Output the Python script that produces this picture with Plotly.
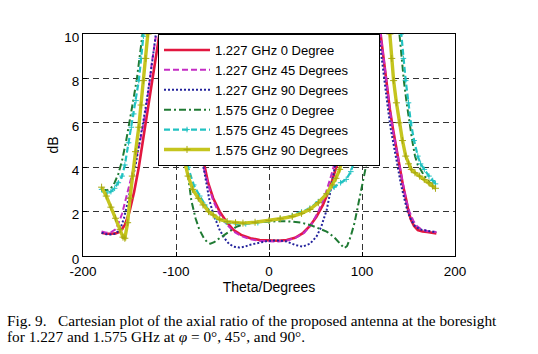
import plotly.graph_objects as go

# ---------------- data (theta in degrees, axial ratio in dB) ----------------
red_t = [-180,-175,-170,-165,-160,-155,-150,-145,-140,-135,-130,-125,-120,-115,
         -100,
         -82,-77,-73,-69,-65.5,-60,-53,-45,-38,-30,-20,-10,0,10,19,28,36,44,51,58,65,70,76,80,85,90,95,
         108,
         118,120,123,126,130,133.4,137,140.5,144,147.7,150,153,156,160,165,170,175,180]
red_v = [1.05,1.0,1.0,1.02,1.1,1.4,2.0,2.9,4.0,5.3,6.7,8.1,9.4,10.8,
         25,
         8.0,6.0,4.8,4.0,3.3,2.6,2.0,1.5,1.17,0.95,0.8,0.72,0.69,0.69,0.72,0.82,1.02,1.35,1.77,2.3,3.0,3.7,4.5,5.5,7.0,9.0,11,
         25,
         11,10,8.9,7.9,6.6,5.7,4.8,4.0,3.2,2.5,2.0,1.6,1.35,1.17,1.1,1.08,1.05,1.02]

mag_t = [-180,-175,-170,-165,-161.6,-158,-155,-150,-144,-138,-133,-129,-126,-122,-118,
         -100,
         -84,-79,-75,-71,-66,-60,-54,-46,-38,-30,-20,-10,0,10,20,30,38,46,53,60,66,72,77,82,87,92,
         106,
         118,120,123,126,130,133,137,140.5,144,147.5,151,155,159,164,170,175,180]
mag_v = [1.1,1.05,1.07,1.2,1.5,1.9,2.4,3.2,4.2,5.3,6.4,7.6,8.7,9.8,11,
         25,
         8.5,6.5,5.0,4.1,3.3,2.5,1.95,1.45,1.1,0.9,0.75,0.68,0.65,0.65,0.7,0.85,1.05,1.45,2.0,2.7,3.5,4.4,5.4,7.0,9.0,11,
         25,
         11,10,8.9,7.9,6.6,5.7,4.8,4.0,3.2,2.5,2.0,1.6,1.35,1.2,1.12,1.1,1.08]

blu_t = [-180,-175,-170,-165,-160,-156,-152,-148,-143,-138,-133,-128,-124,-120,
         -100,
         -84,-80,-77,-74.5,-70,-67,-64,-60,-56,-53,-48,-43,-38,-32,-26,-21,-10,0,10,19,28,36,44,51,56,62,66,69,72,75,79,84,89,
         105,
         116,118,121,124,128,131,135,138.5,142,146,149,153,157,162,170,175,180]
blu_v = [1.05,0.98,0.97,1.0,1.2,1.7,2.4,3.2,4.2,5.4,6.6,8.0,9.2,10.5,
         25,
         9.0,7.5,6.0,4.8,3.9,3.2,2.5,1.9,1.45,1.17,0.8,0.55,0.42,0.38,0.42,0.5,0.6,0.69,0.7,0.65,0.5,0.42,0.55,0.87,1.3,2.07,2.9,3.57,4.3,5.2,6.7,8.5,10.5,
         25,
         11,10,8.9,7.9,6.6,5.7,4.8,4.0,3.2,2.5,2.0,1.6,1.35,1.2,1.12,1.1,1.08]

grn_t = [-180,-177,-174,-170,-166,-162,-158,-154,-150,-146,-142,-139,-136,-133,
         -115,
         -100,-96,-93,-90,-87,-83.5,-79,-75,-70,-66,-63,-59,-55,-51,-45,-35,-25,-12,0,12,25,35,44,53,62,70,76,81,84,88,92,95,98,102,106.5,109,112,115,118,
         130,
         138,140,142.5,145,148,151,154,157,160,163,167,172,176,179]
grn_v = [3.0,2.98,2.96,3.05,3.3,3.7,4.3,5.1,6.0,7.0,8.0,9.0,10,11,
         25,
         9,7,5.5,4.4,3.6,2.5,1.7,1.2,0.8,0.6,0.55,0.62,0.75,0.87,1.05,1.32,1.45,1.52,1.55,1.57,1.55,1.5,1.4,1.25,1.1,0.85,0.6,0.35,0.45,0.9,1.5,2.1,2.8,3.6,4.5,5.5,7,9,11,
         25,
         11,10,8.9,7.9,6.9,6.0,5.2,4.5,4.1,3.9,3.6,3.35,3.15,3.05]

cyn_t = [-180,-177,-174,-170,-166,-162,-158,-155,-151,-148,-145.5,-143,-140,-137.5,-135,-133,
         -115,
         -98,-95,-92,-87,-81,-74.5,-69,-64,-56,-46,-36,-25,-12,0,12,25,35,44,53,62,70,77,83,88,91,94,97,100,103,106,
         125,
         140,142,144.5,147,150,152.5,156,160,163,167,172,176,179]
cyn_v = [3.0,2.88,2.84,2.9,3.05,3.3,3.6,4.1,5.1,5.8,6.4,7.0,7.9,8.9,9.9,10.8,
         25,
         7.5,5.8,4.7,4.0,3.2,2.7,2.3,2.0,1.7,1.52,1.45,1.45,1.5,1.58,1.68,1.82,1.98,2.15,2.45,2.8,3.1,3.3,3.45,3.8,4.2,4.6,5.5,7,9,11,
         25,
         11,10,8.9,7.9,6.9,6.0,5.2,4.5,4.15,3.9,3.6,3.4,3.25]

yel_t = [-180,-175,-170,-165,-160,-157,-155,-152,-149.5,-147,-143.5,-140,-137.5,-135,-132.5,-130,-128,
         -112,
         -100,-97,-94.5,-92,-87,-82,-76,-71,-65,-60,-53,-45,-36,-28,-15,0,12,25,35,44,53,62,68,72,76,79,81,84,87,90,
         110,
         128,130,132,134,137,140,143.5,147,150,153,157,162,167,172,176,179]
yel_v = [3.1,2.7,2.2,1.7,1.2,0.85,0.8,1.5,2.6,3.6,4.7,5.8,6.8,7.9,8.9,10,11,
         25,
         9,7,5.5,4.5,3.6,3.0,2.6,2.3,2.0,1.85,1.65,1.55,1.5,1.48,1.52,1.6,1.68,1.78,1.92,2.1,2.4,2.8,3.2,3.5,3.9,4.4,4.8,6,8,10.5,
         25,
         11,10,8.9,7.9,6.9,6.0,5.2,4.5,4.15,3.9,3.75,3.6,3.45,3.3,3.15,3.05]

names = ["1.227 GHz 0 Degree", "1.227 GHz 45 Degrees", "1.227 GHz 90 Degrees",
         "1.575 GHz 0 Degree", "1.575 GHz 45 Degrees", "1.575 GHz 90 Degrees"]

x_ticks = [-200, -100, 0, 100, 200]
y_ticks = [0, 2, 4, 6, 8, 10]

caption1 = "Fig. 9.\u00a0\u00a0\u00a0Cartesian plot of the axial ratio of the proposed antenna at the boresight"
caption2 = "for 1.227 and 1.575 GHz at <i>φ</i> = 0°, 45°, and 90°."

# ---------------- figure ----------------
series = [
    (red_t, red_v, dict(color="#e2173f", width=2.6, dash="solid"), None),
    (mag_t, mag_v, dict(color="#c42cc4", width=2, dash="6px,3px"), None),
    (blu_t, blu_v, dict(color="#23239c", width=2, dash="2px,2px"), None),
    (grn_t, grn_v, dict(color="#1f7a33", width=2, dash="7px,3px,2px,3px"), None),
    (cyn_t, cyn_v, dict(color="#22c2c2", width=2.2, dash="6px,3px"),
     dict(symbol="cross-thin", size=4, line=dict(width=1, color="#22c2c2"))),
    (yel_t, yel_v, dict(color="#c5c51e", width=3.4, dash="solid"),
     dict(symbol="cross-thin", size=5, line=dict(width=1, color="#a8a810"))),
]

pad = "\u00a0" * 7  # right padding inside the legend box

fig = go.Figure()
for (t, v, ln, mk), nm in zip(series, names):
    fig.add_trace(go.Scatter(
        x=t, y=v, name=nm + (pad if nm.endswith("Degrees") else pad + "\u00a0" * 3),
        mode="lines+markers" if mk else "lines",
        line=ln, marker=mk if mk else None,
    ))

L, R, T, B = 83, 83, 34, 98
W, H = 538, 354
pw, ph = W - L - R, H - T - B

def px(xp):
    return (xp - L) / pw

def py(yp):
    return (H - B - yp) / ph

axis_common = dict(
    showline=True, linecolor="black", linewidth=1, mirror=True,
    showgrid=True, gridcolor="#333333", gridwidth=1, griddash="6px,4px",
    zeroline=False, ticks="inside", ticklen=4, tickcolor="black",
    tickfont=dict(family="Liberation Sans, Arial, sans-serif", size=13.5, color="black"),
)

fig.update_layout(
    width=W, height=H,
    margin=dict(l=L, r=R, t=T, b=B, pad=0),
    paper_bgcolor="white", plot_bgcolor="white",
    font=dict(family="Liberation Sans, Arial, sans-serif", color="black"),
    xaxis=dict(range=[-200, 200], tickvals=x_ticks, ticktext=[str(v) for v in x_ticks],
               ticklabelstandoff=3,
               title=dict(text="Theta/Degrees", standoff=1,
                          font=dict(size=14, family="Liberation Sans, Arial, sans-serif")),
               **axis_common),
    yaxis=dict(range=[0, 10], tickvals=y_ticks, ticktext=[str(v) for v in y_ticks],
               ticklabelshift=3,
               title=dict(text="dB", standoff=2,
                          font=dict(size=14, family="Liberation Sans, Arial, sans-serif")),
               **axis_common),
    legend=dict(x=px(158), y=1, xanchor="left", yanchor="top",
                bgcolor="white", bordercolor="black", borderwidth=1,
                font=dict(size=13, family="Liberation Sans, Arial, sans-serif"),
                itemwidth=46, tracegroupgap=0),
    showlegend=True,
)

serif = "Liberation Serif, Times New Roman, serif"
fig.add_annotation(text=caption1, xref="paper", yref="paper", x=px(5), y=py(320),
                   xanchor="left", yanchor="middle", showarrow=False,
                   font=dict(family=serif, size=15.3, color="black"))
fig.add_annotation(text=caption2, xref="paper", yref="paper", x=px(5), y=py(336),
                   xanchor="left", yanchor="middle", showarrow=False,
                   font=dict(family=serif, size=15.3, color="black"))

fig.write_html("out.html")
